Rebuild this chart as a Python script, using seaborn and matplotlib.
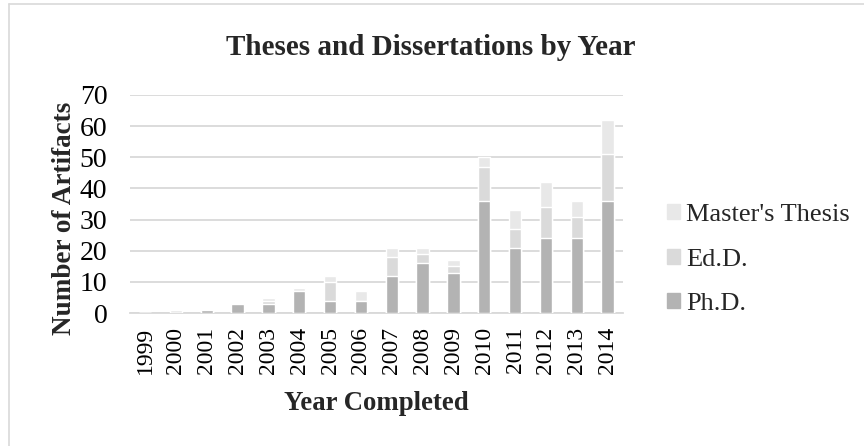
import matplotlib
matplotlib.use("Agg")
import matplotlib.pyplot as plt
import numpy as np
import pandas as pd
import seaborn as sns
from matplotlib.patches import Patch

# data
years = [str(y) for y in range(1999, 2015)]
phd = [0, 0, 1, 3, 3, 7, 4, 4, 12, 16, 13, 36, 21, 24, 24, 36]
edd = [0, 0, 0, 0, 1, 0, 6, 0, 6, 3, 2, 11, 6, 10, 7, 15]
masters = [0, 1, 0, 0, 1, 1, 2, 3, 3, 2, 2, 3, 6, 8, 5, 11]

col_phd = "#b3b3b3"
col_edd = "#dadada"
col_ms = "#e8e8e8"

df = pd.DataFrame({"year": years, "phd": phd, "edd": edd, "masters": masters})
df["phd_edd"] = df["phd"] + df["edd"]
df["total"] = df["phd_edd"] + df["masters"]

sns.set_style("white")
plt.rcParams["font.family"] = ["Liberation Serif", "DejaVu Serif"]

fig = plt.figure(figsize=(8.64, 4.46), dpi=100)
ax = fig.add_axes([0.150, 0.298, 0.571, 0.489])

# stacked bars: draw totals first, then cover with the lower parts
sns.barplot(data=df, x="year", y="total", color=col_ms, width=0.4,
            saturation=1, ax=ax, zorder=3)
sns.barplot(data=df, x="year", y="phd_edd", color=col_edd, width=0.4,
            saturation=1, ax=ax, zorder=3)
sns.barplot(data=df, x="year", y="phd", color=col_phd, width=0.4,
            saturation=1, ax=ax, zorder=3)

ax.set_ylim(0, 70)
ax.set_yticks(range(0, 71, 10))
ax.set_xlim(-0.5, len(years) - 0.5)
ax.yaxis.grid(True, color="#d9d9d9", linewidth=1.3, zorder=0)
ax.set_axisbelow(True)
for s in ["top", "right", "left"]:
    ax.spines[s].set_visible(False)
ax.spines["bottom"].set_color("#d9d9d9")
ax.spines["bottom"].set_linewidth(1.3)
ax.tick_params(axis="both", length=0, colors="black")
ax.tick_params(axis="x", rotation=90, pad=10, labelsize=17)
ax.tick_params(axis="y", pad=16, labelsize=20)

ax.set_xlabel("Year Completed", fontsize=19.3, fontweight="bold", labelpad=12)
ax.set_ylabel("Number of Artifacts", fontsize=19.5, fontweight="bold")
ax.yaxis.set_label_coords(-0.106, 0.436)
fig.suptitle("Theses and Dissertations by Year", fontsize=21,
             fontweight="bold", x=0.499, y=0.893, va="center")

handles = [Patch(color=col_ms, label="Master's Thesis"),
           Patch(color=col_edd, label="Ed.D."),
           Patch(color=col_phd, label="Ph.D.")]
fig.legend(handles=handles, loc="center left", bbox_to_anchor=(0.744, 0.418),
           frameon=False, fontsize=19, handlelength=0.5, handleheight=0.5,
           handletextpad=0.25, labelspacing=0.86)

# light chart border
fig.add_artist(plt.Line2D([8.5 / 864, 8.5 / 864], [0, 1 - 4 / 446],
                          color="#d9d9d9", linewidth=1.2))
fig.add_artist(plt.Line2D([8.5 / 864, 1], [1 - 4 / 446, 1 - 4 / 446],
                          color="#d9d9d9", linewidth=1.2))

fig.savefig("out.png", dpi=100)
